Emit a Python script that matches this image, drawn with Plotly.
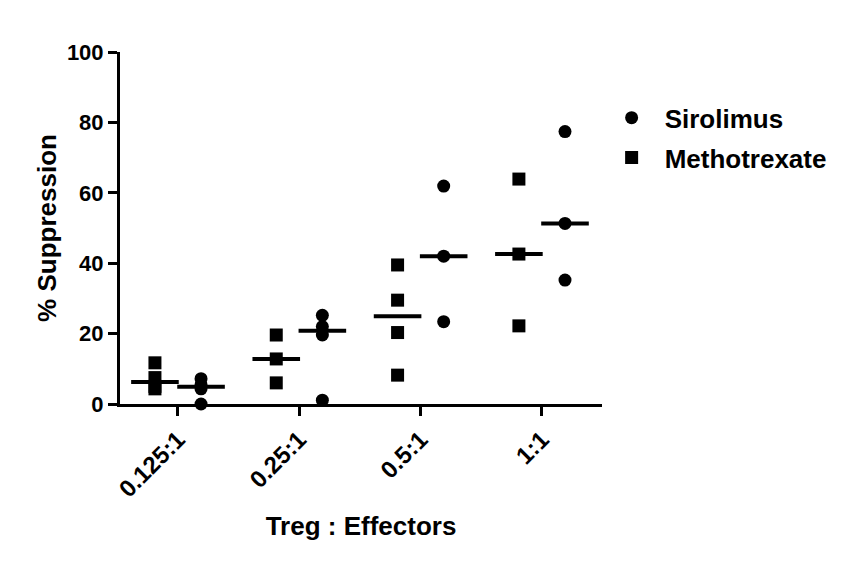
import numpy as np
import plotly.graph_objects as go

categories = ["0.125:1", "0.25:1", "0.5:1", "1:1"]
methotrexate = [
    [11.7, 7.5, 5.0, 4.3],
    [19.6, 12.8, 6.0],
    [39.5, 29.5, 20.3, 8.2],
    [63.9, 42.6, 22.2],
]
sirolimus = [
    [7.2, 5.5, 4.3, 0.0],
    [25.2, 22.0, 19.6, 1.1],
    [61.9, 42.0, 23.4],
    [77.4, 51.3, 35.2],
]
y_ticks = [0, 20, 40, 60, 80, 100]

OFFSET = 0.19
FONT = "Arial, Liberation Sans, Helvetica, sans-serif"

fig = go.Figure()

def add_series(groups, name, symbol, offset):
    xs, ys, mx, my = [], [], [], []
    for i, vals in enumerate(groups):
        for v in vals:
            xs.append(i + offset)
            ys.append(v)
        mx.append(i + offset)
        my.append(float(np.median(vals)))
    fig.add_trace(go.Scatter(
        x=xs, y=ys, mode="markers", name=name,
        legendgroup=name,
        marker=dict(symbol=symbol, size=13, color="black"),
        cliponaxis=False,
    ))
    fig.add_trace(go.Scatter(
        x=mx, y=my, mode="markers", showlegend=False,
        marker=dict(symbol="line-ew", size=34,
                    line=dict(width=4, color="black")),
        cliponaxis=False, hoverinfo="skip",
    ))

add_series(sirolimus, "Sirolimus", "circle", OFFSET)
add_series(methotrexate, "Methotrexate", "square", -OFFSET)

fig.update_layout(
    width=844, height=564,
    margin=dict(l=120, r=242, t=52, b=160),
    paper_bgcolor="white", plot_bgcolor="white",
    showlegend=True,
    legend=dict(
        x=0.993, y=0.88, xanchor="left", yanchor="top",
        xref="paper", yref="paper",
        font=dict(family=FONT, size=26, color="black", weight="bold"),
        tracegroupgap=3, itemwidth=56,
        bgcolor="rgba(0,0,0,0)",
    ),
    font=dict(family=FONT, color="black"),
)

fig.update_xaxes(
    range=[-0.478, 3.495],
    tickvals=list(range(len(categories))),
    ticktext=categories,
    tickangle=-45,
    showline=True, linecolor="black", linewidth=3,
    ticks="outside", ticklen=9, tickwidth=3, tickcolor="black",
    showgrid=False, zeroline=False,
    tickfont=dict(family=FONT, size=24, color="black", weight="bold"),
    title=dict(text="<b>Treg : Effectors</b>",
               font=dict(family=FONT, size=26, color="black"), standoff=16),
)
fig.update_yaxes(
    range=[0, 100],
    tickvals=y_ticks,
    showline=True, linecolor="black", linewidth=3,
    ticks="outside", ticklen=9, tickwidth=3, tickcolor="black",
    showgrid=False, zeroline=False,
    tickfont=dict(family=FONT, size=22, color="black", weight="bold"),
    title=dict(text="<b>% Suppression</b>",
               font=dict(family=FONT, size=26, color="black"), standoff=3),
)

fig.write_html("out.html")
